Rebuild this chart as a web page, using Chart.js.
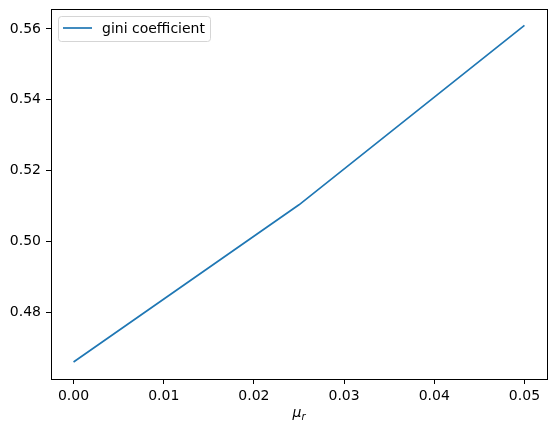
<!DOCTYPE html>
<html>
<head>
<meta charset="utf-8">
<script src="https://cdn.jsdelivr.net/npm/chart.js@4/dist/chart.umd.min.js"></script>
<style>
  html, body { margin: 0; padding: 0; background: #fff; }
  #wrap { width: 556px; height: 433px; }
</style>
</head>
<body>
<div id="wrap"><canvas id="gini"></canvas></div>
<script>
// values
var muR = [0.0, 0.025, 0.05];
var gini = [0.4661, 0.5104, 0.5610];
var xTicks = [0.0, 0.01, 0.02, 0.03, 0.04, 0.05];
var yTicks = [0.48, 0.50, 0.52, 0.54, 0.56];
var seriesName = "gini coefficient";

var FONT = "'DejaVu Sans', sans-serif";

function keepTicks(list) {
  return function (scale) {
    scale.ticks = list.map(function (v) { return { value: v }; });
  };
}

// matplotlib-like frame, inset legend and x label
var extras = {
  id: "extras",
  afterDraw: function (chart) {
    var c = chart.ctx, a = chart.chartArea;
    c.save();
    c.strokeStyle = "#000";
    c.lineWidth = 1;
    c.strokeRect(Math.round(a.left) + 0.5, Math.round(a.top) + 0.5,
      Math.round(a.right - a.left), Math.round(a.bottom - a.top));

    // legend box
    var bx = 58.5, by = 16.5, bw = 152, bh = 25;
    c.beginPath();
    c.roundRect(bx, by, bw, bh, 3);
    c.fillStyle = "rgba(255,255,255,0.8)";
    c.fill();
    c.strokeStyle = "#d5d5d5";
    c.stroke();
    c.beginPath();
    c.moveTo(63, 28);
    c.lineTo(92, 28);
    c.strokeStyle = chart.data.datasets[0].borderColor;
    c.lineWidth = 1.7;
    c.stroke();
    c.fillStyle = "#000";
    c.font = "14px " + FONT;
    c.textBaseline = "middle";
    c.fillText(chart.data.datasets[0].label, 102, 29);

    // x axis label: italic mu with subscript r
    var cx = (a.left + a.right) / 2;
    c.font = "italic 14px " + FONT;
    c.textBaseline = "alphabetic";
    var w1 = c.measureText("μ").width;
    c.font = "italic 10px " + FONT;
    var w2 = c.measureText("r").width;
    var x0 = cx - (w1 + w2) / 2;
    c.font = "italic 14px " + FONT;
    c.fillText("μ", x0, 417);
    c.font = "italic 10px " + FONT;
    c.fillText("r", x0 + w1, 420);
    c.restore();
  }
};

new Chart(document.getElementById("gini").getContext("2d"), {
  type: "line",
  data: {
    datasets: [
      {
        label: seriesName,
        data: muR.map(function (x, i) { return { x: x, y: gini[i] }; }),
        borderColor: "#1f77b4",
        borderWidth: 1.7,
        pointRadius: 0,
        tension: 0,
        fill: false,
      },
    ],
  },
  options: {
    responsive: true,
    maintainAspectRatio: false,
    animation: false,
    layout: { padding: { left: 0, right: 9, top: 9, bottom: 0 } },
    plugins: {
      legend: { display: false },
      tooltip: { enabled: false },
    },
    scales: {
      x: {
        type: "linear",
        min: -0.0025,
        max: 0.0525,
        afterBuildTicks: keepTicks(xTicks),
        afterFit: function (s) { s.height = 54; s.paddingLeft = 0; s.paddingRight = 0; },
        grid: { drawOnChartArea: false, drawTicks: true, tickLength: 5, tickColor: "#000" },
        border: { display: true, color: "#000", width: 1 },
        ticks: {
          color: "#000",
          padding: 4,
          maxRotation: 0,
          autoSkip: false,
          font: { family: FONT, size: 14 },
          callback: function (v) { return Number(v).toFixed(2); },
        },
      },
      y: {
        type: "linear",
        min: 0.4613,
        max: 0.5656,
        afterBuildTicks: keepTicks(yTicks),
        afterFit: function (s) { s.width = 51; s.paddingTop = 0; s.paddingBottom = 0; },
        grid: { drawOnChartArea: false, drawTicks: true, tickLength: 5, tickColor: "#000" },
        border: { display: true, color: "#000", width: 1 },
        ticks: {
          color: "#000",
          padding: 5,
          autoSkip: false,
          font: { family: FONT, size: 14 },
          callback: function (v) { return Number(v).toFixed(2); },
        },
      },
    },
  },
  plugins: [extras],
});
</script>
</body>
</html>
